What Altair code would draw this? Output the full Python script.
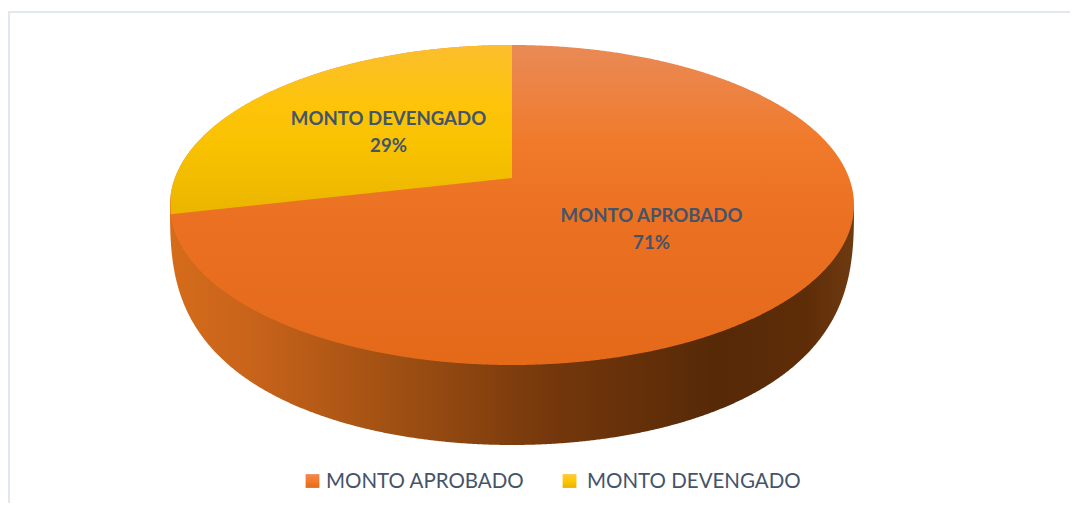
import numpy as np
import pandas as pd
import altair as alt

# --- chart values -----------------------------------------------------------
categories = ["MONTO APROBADO", "MONTO DEVENGADO"]
shares = [71.4, 28.6]   # labelled as rounded percentages

# --- page frame and pie geometry -------------------------------------------
MARGIN = 8
PLOT_RIGHT, PLOT_BOTTOM = 1070, 503                # last page pixels that fit with the margin
CX, TOP_CY, TOP_RX, TOP_RY = 512, 205, 342, 160   # upper face
APEX_Y = 178                                       # perspective centre of the face
WALL_BOTTOM = 445                                  # lowest point of the side wall

x_scale = alt.Scale(domain=[MARGIN, PLOT_RIGHT], nice=False, zero=False)
y_scale = alt.Scale(domain=[PLOT_BOTTOM, MARGIN], nice=False, zero=False)
X = lambda f="x": alt.X(f"{f}:Q", scale=x_scale, axis=None)
Y = lambda f="y": alt.Y(f"{f}:Q", scale=y_scale, axis=None)

# Rim point where the smaller slice ends, seen through the pie's perspective
top_y, bot_y = TOP_CY - TOP_RY, TOP_CY + TOP_RY
k = (2 * APEX_Y - top_y - bot_y) / (bot_y - top_y) * -1
A = top_y * (1 + k) - APEX_Y
angle = np.radians(shares[1] * 3.6)
u, v = -np.sin(angle), np.cos(angle)
edge_x = CX + TOP_RX * np.sqrt(1 - k * k) * u / (1 + k * v)
edge_y = (A * v + APEX_Y) / (1 + k * v)

unit = -np.cos(np.linspace(0, np.pi, 721))
xs = CX + TOP_RX * unit
inner = np.clip(1 - unit ** 2, 0, 1)
half = np.sqrt(inner)
upper = TOP_CY - TOP_RY * half
lower = TOP_CY + TOP_RY * half

# Side wall: lower rim curving in to meet the widest points of the face
side_low = TOP_CY + (WALL_BOTTOM - TOP_CY) * inner ** 0.35
side = pd.DataFrame({"x": xs, "y": TOP_CY * np.ones_like(xs), "y2": side_low})

orange = pd.DataFrame({"x": xs, "y": upper, "y2": lower})

line = np.interp(xs, [edge_x, CX], [edge_y, APEX_Y])
mask = xs <= CX
yellow = pd.DataFrame({"x": xs[mask], "y": upper[mask],
                       "y2": np.where(xs[mask] >= edge_x, line[mask], upper[mask])})


def grad(stops, horizontal=False):
    return alt.Gradient(
        gradient="linear",
        stops=[alt.GradientStop(offset=o, color=c) for o, c in stops],
        x1=0, y1=0, x2=1 if horizontal else 0, y2=0 if horizontal else 1,
    )


side_grad = grad([(0, "#D56C1A"), (0.12, "#C8631A"), (0.35, "#9C4E12"), (0.55, "#76380C"),
                  (0.8, "#562907"), (0.93, "#5E2D08"), (1, "#6E3A10")], horizontal=True)
orange_grad = grad([(0, "#E98A55"), (0.12, "#EC8446"), (0.3, "#F07A2A"), (0.55, "#EB7022"),
                    (1, "#E46A1A")])
yellow_grad = grad([(0, "#FBBE2E"), (0.35, "#FDC40A"), (0.6, "#F8C200"), (1, "#EBB500")])

side_layer = alt.Chart(side).mark_area(color=side_grad).encode(x=X(), y=Y(), y2="y2:Q")
orange_layer = alt.Chart(orange).mark_area(color=orange_grad).encode(x=X(), y=Y(), y2="y2:Q")
yellow_layer = alt.Chart(yellow).mark_area(color=yellow_grad).encode(x=X(), y=Y(), y2="y2:Q")

# --- data labels ------------------------------------------------------------
TEXT = "#44546A"
FONT = "Lato"
LABEL_SIZE = 18.6
label_df = pd.DataFrame({
    "name": categories,
    "pct": [f"{round(s)}%" for s in shares],
    "x": [651.5, 388.5],
    "y1": [216, 119],
    "y2b": [243, 146],
})
names = alt.Chart(label_df).mark_text(font=FONT, fontWeight="bold", fontSize=LABEL_SIZE, color=TEXT).encode(
    x=X(), y=Y("y1"), text="name:N")
pcts = alt.Chart(label_df).mark_text(font=FONT, fontWeight="bold", fontSize=LABEL_SIZE, color=TEXT).encode(
    x=X(), y=Y("y2b"), text="pct:N")

# --- legend -----------------------------------------------------------------
LEG_Y = 481
leg_df = pd.DataFrame({"name": categories, "sx": [312.5, 569.5], "tx": [326, 587],
                       "y": [LEG_Y, LEG_Y], "ty": [LEG_Y + 1, LEG_Y + 1]})
leg_text = alt.Chart(leg_df).mark_text(font=FONT, fontSize=20.5, color=TEXT, align="left").encode(
    x=X("tx"), y=Y("ty"), text="name:N")
sq_orange = alt.Chart(leg_df.iloc[[0]]).mark_square(
    size=190, opacity=1, color=grad([(0, "#F08A50"), (0.5, "#F47A2C"), (1, "#E46A1A")])
).encode(x=X("sx"), y=Y())
sq_yellow = alt.Chart(leg_df.iloc[[1]]).mark_square(
    size=190, opacity=1, color=grad([(0, "#FFC83A"), (0.5, "#FFC800"), (1, "#E8B000")])
).encode(x=X("sx"), y=Y())

# --- outer frame ------------------------------------------------------------
FRAME = "#E2E7EE"
frame_left = alt.Chart(pd.DataFrame({"a": [0]})).mark_rule(color=FRAME, strokeWidth=2).encode(
    x=alt.value(1), y=alt.value(4), y2=alt.value(PLOT_BOTTOM - MARGIN))
frame_top = alt.Chart(pd.DataFrame({"a": [0]})).mark_rule(color=FRAME, strokeWidth=2).encode(
    y=alt.value(4), x=alt.value(0), x2=alt.value(PLOT_RIGHT - MARGIN))

chart = alt.layer(
    frame_left, frame_top, side_layer, orange_layer, yellow_layer,
    names, pcts, sq_orange, sq_yellow, leg_text,
).properties(
    width=PLOT_RIGHT - MARGIN, height=PLOT_BOTTOM - MARGIN, padding=0,
    autosize=alt.AutoSizeParams(type="none"), background="white",
).configure_view(stroke=None)

chart.save("out.html", embed_options={"renderer": "svg", "actions": False})
